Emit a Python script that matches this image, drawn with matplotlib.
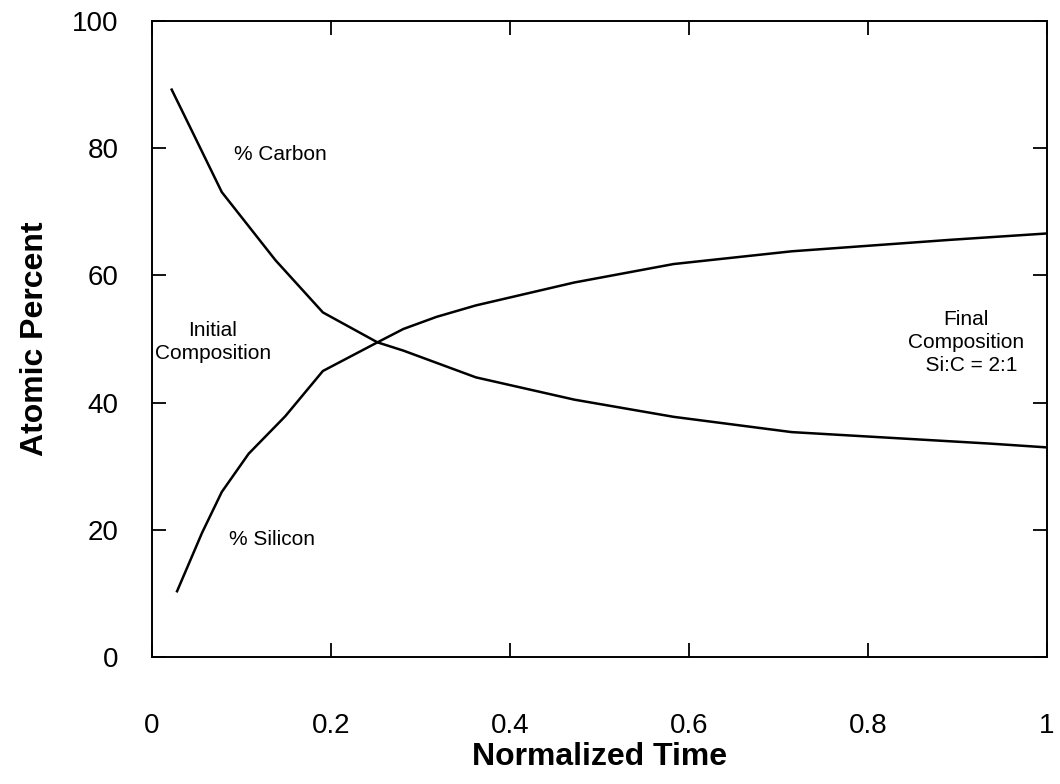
import matplotlib.pyplot as plt

# Atomic percent vs normalized time
t_carbon = [0.022, 0.045, 0.078, 0.138, 0.191, 0.252, 0.281, 0.362, 0.472, 0.583, 0.715, 0.936, 1.0]
carbon = [89.2, 82.6, 73.1, 62.4, 54.2, 49.5, 48.2, 44.0, 40.5, 37.8, 35.4, 33.6, 33.0]

t_silicon = [0.028, 0.056, 0.078, 0.108, 0.149, 0.191, 0.252, 0.281, 0.318, 0.362, 0.472, 0.583, 0.715, 0.892, 1.0]
silicon = [10.4, 19.6, 26.0, 32.0, 37.9, 45.0, 49.5, 51.6, 53.5, 55.3, 58.9, 61.8, 63.8, 65.6, 66.6]

x_ticks = [0, 0.2, 0.4, 0.6, 0.8, 1.0]
x_labels = ['0', '0.2', '0.4', '0.6', '0.8', '1']
y_ticks = [0, 20, 40, 60, 80, 100]

plt.rcParams['font.family'] = ['Liberation Sans', 'DejaVu Sans']

fig = plt.figure(figsize=(10.6, 7.84), dpi=100)
ax = fig.add_axes([0.1434, 0.1614, 0.844, 0.812])

ax.plot(t_carbon, carbon, color='black', lw=1.8)
ax.plot(t_silicon, silicon, color='black', lw=1.8)

ax.set_xlim(0, 1)
ax.set_ylim(0, 100)
ax.set_xticks(x_ticks)
ax.set_xticklabels(x_labels)
ax.set_yticks(y_ticks)

for s in ax.spines.values():
    s.set_linewidth(1.4)

ax.tick_params(direction='in', length=10, width=1.3, top=True, right=True,
               labelsize=20)
ax.tick_params(axis='x', pad=40)
ax.tick_params(axis='y', pad=24)

ax.set_xlabel('Normalized Time', fontsize=23, fontweight='bold', labelpad=2)
ax.set_ylabel('Atomic Percent', fontsize=23, fontweight='bold', labelpad=16)

# annotations
ax.text(0.143, 79, '% Carbon', fontsize=15, ha='center', va='center')
ax.text(0.068, 49.5, 'Initial\nComposition', fontsize=15, ha='center', va='center',
        linespacing=1.25)
ax.text(0.134, 18.5, '% Silicon', fontsize=15, ha='center', va='center')
ax.text(0.91, 49.5, 'Final\nComposition\n  Si:C = 2:1', fontsize=15, ha='center',
        va='center', linespacing=1.25)

fig.savefig('out.png', dpi=100)
